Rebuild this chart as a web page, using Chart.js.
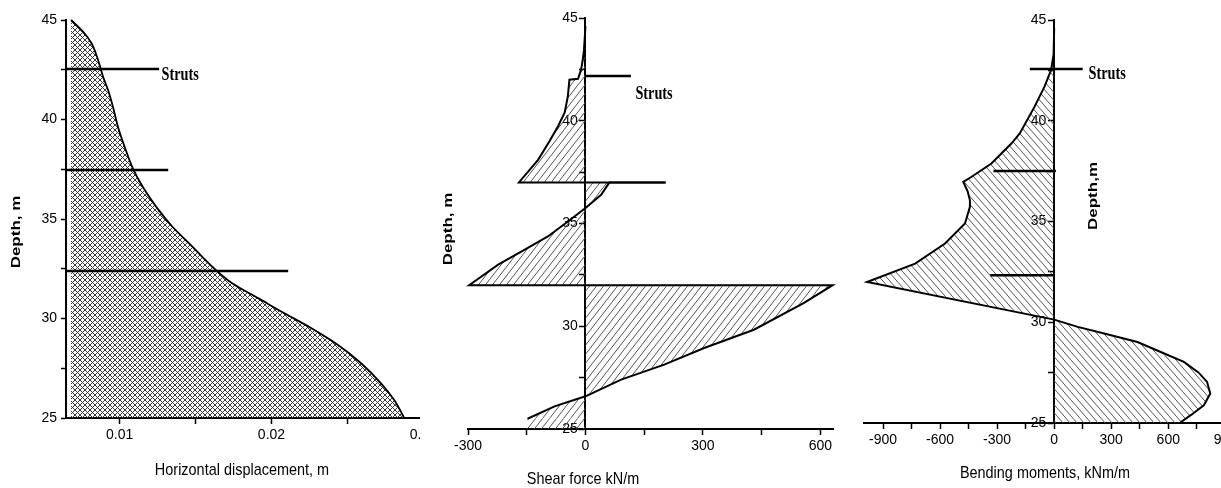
<!DOCTYPE html>
<html>
<head>
<meta charset="utf-8">
<script src="https://cdn.jsdelivr.net/npm/chart.js@4.4.1/dist/chart.umd.min.js"></script>
<style>
  body { margin: 0; background: #fff; overflow: hidden; }
  #wrap { position: relative; width: 1221px; height: 488px; overflow: hidden; background: #fff; }
  canvas { position: absolute; top: 0; }
  #dispChart { left: 0; z-index: 1; }
  #shearChart { left: 420px; z-index: 2; background: #fff; }
  #momentChart { left: 840px; z-index: 3; background: #fff; }
</style>
</head>
<body>
<div id="wrap">
  <canvas id="dispChart" width="440" height="488"></canvas>
  <canvas id="shearChart" width="420" height="488"></canvas>
  <canvas id="momentChart" width="400" height="488"></canvas>
</div>
<script>
// ---- horizontal displacement profile ----
const dispDepth = [45, 44.41, 43.83, 42.99, 42.15, 41.48, 40.64, 39.64, 38.63, 37.55, 36.62, 35.62, 34.61, 33.61, 32.60, 31.77, 31.01, 30.34, 29.51, 28.67, 27.75, 26.74, 25.90, 25];
const dispValue = [0.0068, 0.0076, 0.00815, 0.00858, 0.00891, 0.00924, 0.00956, 0.00989, 0.01033, 0.01087, 0.01152, 0.0124, 0.01348, 0.01479, 0.0161, 0.01741, 0.01915, 0.02067, 0.02263, 0.02438, 0.0259, 0.02721, 0.02808, 0.02874];
const dispStrutDepth = [42.54, 37.46, 32.39];
const dispStrutEnd = [0.0126, 0.0132, 0.0211];

// ---- shear force ----
const shearDepth = [44.6, 44.0, 43.4, 42.97, 42.5, 42.04, 42.0, 41.2, 40.4, 39.73, 39.0, 38.1, 37.0, 37.0, 36.4, 35.75, 35.1, 34.37, 33.73, 33.0, 32.0, 32.0, 31.13, 29.83, 28.94, 28.13, 27.4, 26.59, 26.1, 25.5, 25.0];
const shearValue = [0, -2, -4, -7, -11, -19, -41, -45, -53, -70, -92, -121, -170, 61, 40, 0, -45, -96, -155, -223, -297, 631, 557, 430, 303, 201, 91, 0, -79, -148, -148];
const shearStrutDepth = [42.18, 37.0];
const shearStrutStart = [0, 61];
const shearStrutEnd = [116, 205];

// ---- bending moment ----
const momentDepth = [44.6, 43.3, 42.52, 41.69, 40.7, 39.37, 38.87, 37.88, 37.22, 36.97, 36.5, 36.06, 35.73, 34.9, 33.91, 32.91, 32.0, 30.13, 29.77, 29.44, 29.02, 28.6, 28.03, 27.5, 27.04, 26.46, 25.88, 25.4, 25.0];
const momentValue = [0, -3, -16, -51, -103, -181, -225, -330, -434, -478, -455, -443, -443, -469, -574, -731, -984, 0, 124, 263, 438, 542, 682, 760, 804, 821, 787, 720, 660];
const momentStrutDepth = [42.57, 37.51, 32.33];
const momentStrutStart = [-128, -319, -336];
const momentStrutEnd = [150, 9, 0];

const tickFont = {family: "'Liberation Sans', Arial, sans-serif", size: 14};

function pts(xs, ys) {
    return xs.map((x, i) => ({x: x, y: ys[i]}));
}

function hatch(dir, w, h, color) {
    const c = document.createElement('canvas');
    c.width = w; c.height = h;
    const g = c.getContext('2d');
    g.strokeStyle = color;
    g.lineWidth = 1;
    for (const k of [-1, 0, 1]) {
        if (dir !== '\\') { g.beginPath(); g.moveTo(k * w, h); g.lineTo(k * w + w, 0); g.stroke(); }
        if (dir !== '/') { g.beginPath(); g.moveTo(k * w, 0); g.lineTo(k * w + w, h); g.stroke(); }
    }
    return g.createPattern(c, 'repeat');
}

// text labels: {text, x, y} in data units or {text, px, py} in canvas pixels
const textPlugin = {
    id: 'texts',
    afterDraw(chart, args, opts) {
        const ctx = chart.ctx;
        (opts.items || []).forEach(t => {
            const px = t.px !== undefined ? t.px : chart.scales.x.getPixelForValue(t.x);
            const py = t.py !== undefined ? t.py : chart.scales.y.getPixelForValue(t.y);
            ctx.save();
            ctx.translate(px, py);
            ctx.scale(t.sx || 1, 1);
            ctx.rotate(t.rot || 0);
            ctx.font = t.font;
            ctx.fillStyle = '#000';
            ctx.textAlign = 'center';
            ctx.textBaseline = 'middle';
            ctx.fillText(t.text, 0, 0);
            ctx.restore();
        });
    }
};

function strutSets(depths, starts, ends) {
    return depths.map((d, i) => ({
        data: [{x: starts[i], y: d}, {x: ends[i], y: d}],
        borderColor: '#000',
        borderWidth: 2.5,
        pointRadius: 0,
        fill: false
    }));
}

function xAxis(min, max, step, fmt, height) {
    return {
        type: 'linear', position: 'bottom', min: min, max: max,
        afterFit: s => { s.height = height; },
        border: {color: '#000', width: 2},
        grid: {drawOnChartArea: false, color: '#000', tickLength: 6, tickWidth: 1.5},
        ticks: {stepSize: step, includeBounds: false, color: '#000', font: tickFont, padding: 3, maxRotation: 0, autoSkip: false, callback: fmt}
    };
}

function yAxis(position, width) {
    // the axis crossing at x=0 puts labels right on the axis line, so pad them with spaces
    const pad = width ? '' : '  ';
    const ax = {
        type: 'linear', min: 25, max: 45, position: position,
        border: {color: '#000', width: 2},
        grid: {drawOnChartArea: false, color: '#000', tickLength: 5, tickWidth: 1.5},
        ticks: {stepSize: 2.5, includeBounds: false, color: '#000', font: tickFont, padding: 4, autoSkip: false,
            callback: v => (v % 5 === 0 ? String(v) + pad : '')}
    };
    if (width) ax.afterFit = s => { s.width = width; };
    return ax;
}

function makeProfile(element, datasets, scales, padding, items) {
    return new Chart(document.getElementById(element), {
        type: 'line',
        data: {datasets: datasets},
        options: {
            indexAxis: 'y',
            responsive: false,
            animation: false,
            devicePixelRatio: 1,
            layout: {padding: padding},
            elements: {line: {tension: 0}, point: {radius: 0}},
            plugins: {legend: {display: false}, tooltip: {enabled: false}, texts: {items: items}},
            scales: scales
        },
        plugins: [textPlugin]
    });
}

window.onload = function() {
    const titleFont = "bold 17px 'Liberation Sans', Arial, sans-serif";
    const axisFont = "17px 'Liberation Sans', Arial, sans-serif";
    const strutFont = "bold 19px 'Liberation Serif', 'Times New Roman', serif";

    // panel 1
    makeProfile('dispChart', [
        ...strutSets(dispStrutDepth, dispStrutDepth.map(() => 0.00647), dispStrutEnd),
        {
            data: pts(dispValue, dispDepth),
            borderColor: '#000', borderWidth: 1.8,
            backgroundColor: hatch('x', 5, 5, '#3a3a3a'),
            fill: {value: dispValue[0]},
            cubicInterpolationMode: 'monotone',
            clip: false
        }
    ], {
        x: xAxis(0.00647, 0.03, 0.005, v => (Math.abs(v * 100 - Math.round(v * 100)) < 1e-6 ? v.toFixed(2) : ''), 70),
        y: yAxis('left', 66)
    }, {top: 20, right: 14, left: 0, bottom: 0}, [
        {text: 'Struts', x: 0.01399, y: 42.21, font: strutFont, sx: 0.75},
        {text: 'Depth, m', px: 16, py: 232, rot: -Math.PI / 2, font: titleFont, sx: 0.8},
        {text: 'Horizontal displacement, m', px: 242, py: 470, font: axisFont, sx: 0.85}
    ]);

    // panel 2
    makeProfile('shearChart', [
        ...strutSets(shearStrutDepth, shearStrutStart, shearStrutEnd),
        {
            data: pts(shearValue, shearDepth),
            borderColor: '#000', borderWidth: 2,
            backgroundColor: hatch('/', 7, 9, '#555'),
            fill: {value: 0},
            clip: false,
            segment: {borderColor: c => (c.p1DataIndex === shearValue.length - 1 ? 'rgba(0,0,0,0)' : undefined)}
        }
    ], {
        x: xAxis(-300, 632, 150, v => (v % 300 === 0 ? String(v) : ''), 59),
        y: yAxis({x: 0})
    }, {top: 18, right: 7, left: 48, bottom: 0}, [
        {text: 'Struts', x: 175, y: 41.32, font: strutFont, sx: 0.75},
        {text: 'Depth, m', px: 28, py: 229, rot: -Math.PI / 2, font: titleFont, sx: 0.8},
        {text: 'Shear force kN/m', px: 163, py: 479, font: axisFont, sx: 0.85}
    ]);

    // panel 3
    makeProfile('momentChart', [
        ...strutSets(momentStrutDepth, momentStrutStart, momentStrutEnd),
        {
            data: pts(momentValue, momentDepth),
            borderColor: '#000', borderWidth: 2,
            backgroundColor: hatch('\\', 7, 8, '#555'),
            fill: {value: 0},
            clip: false
        }
    ], {
        x: xAxis(-1000, 900, 150, v => (v % 300 === 0 ? String(v) : ''), 65),
        y: yAxis({x: 0})
    }, {top: 20, right: 11, left: 24, bottom: 0}, [
        {text: 'Struts', x: 279, y: 42.32, font: strutFont, sx: 0.75},
        {text: 'Depth,m', px: 253, py: 196, rot: -Math.PI / 2, font: titleFont, sx: 0.8},
        {text: 'Bending moments, kNm/m', px: 205, py: 473, font: axisFont, sx: 0.85}
    ]);
};
</script>
</body>
</html>
